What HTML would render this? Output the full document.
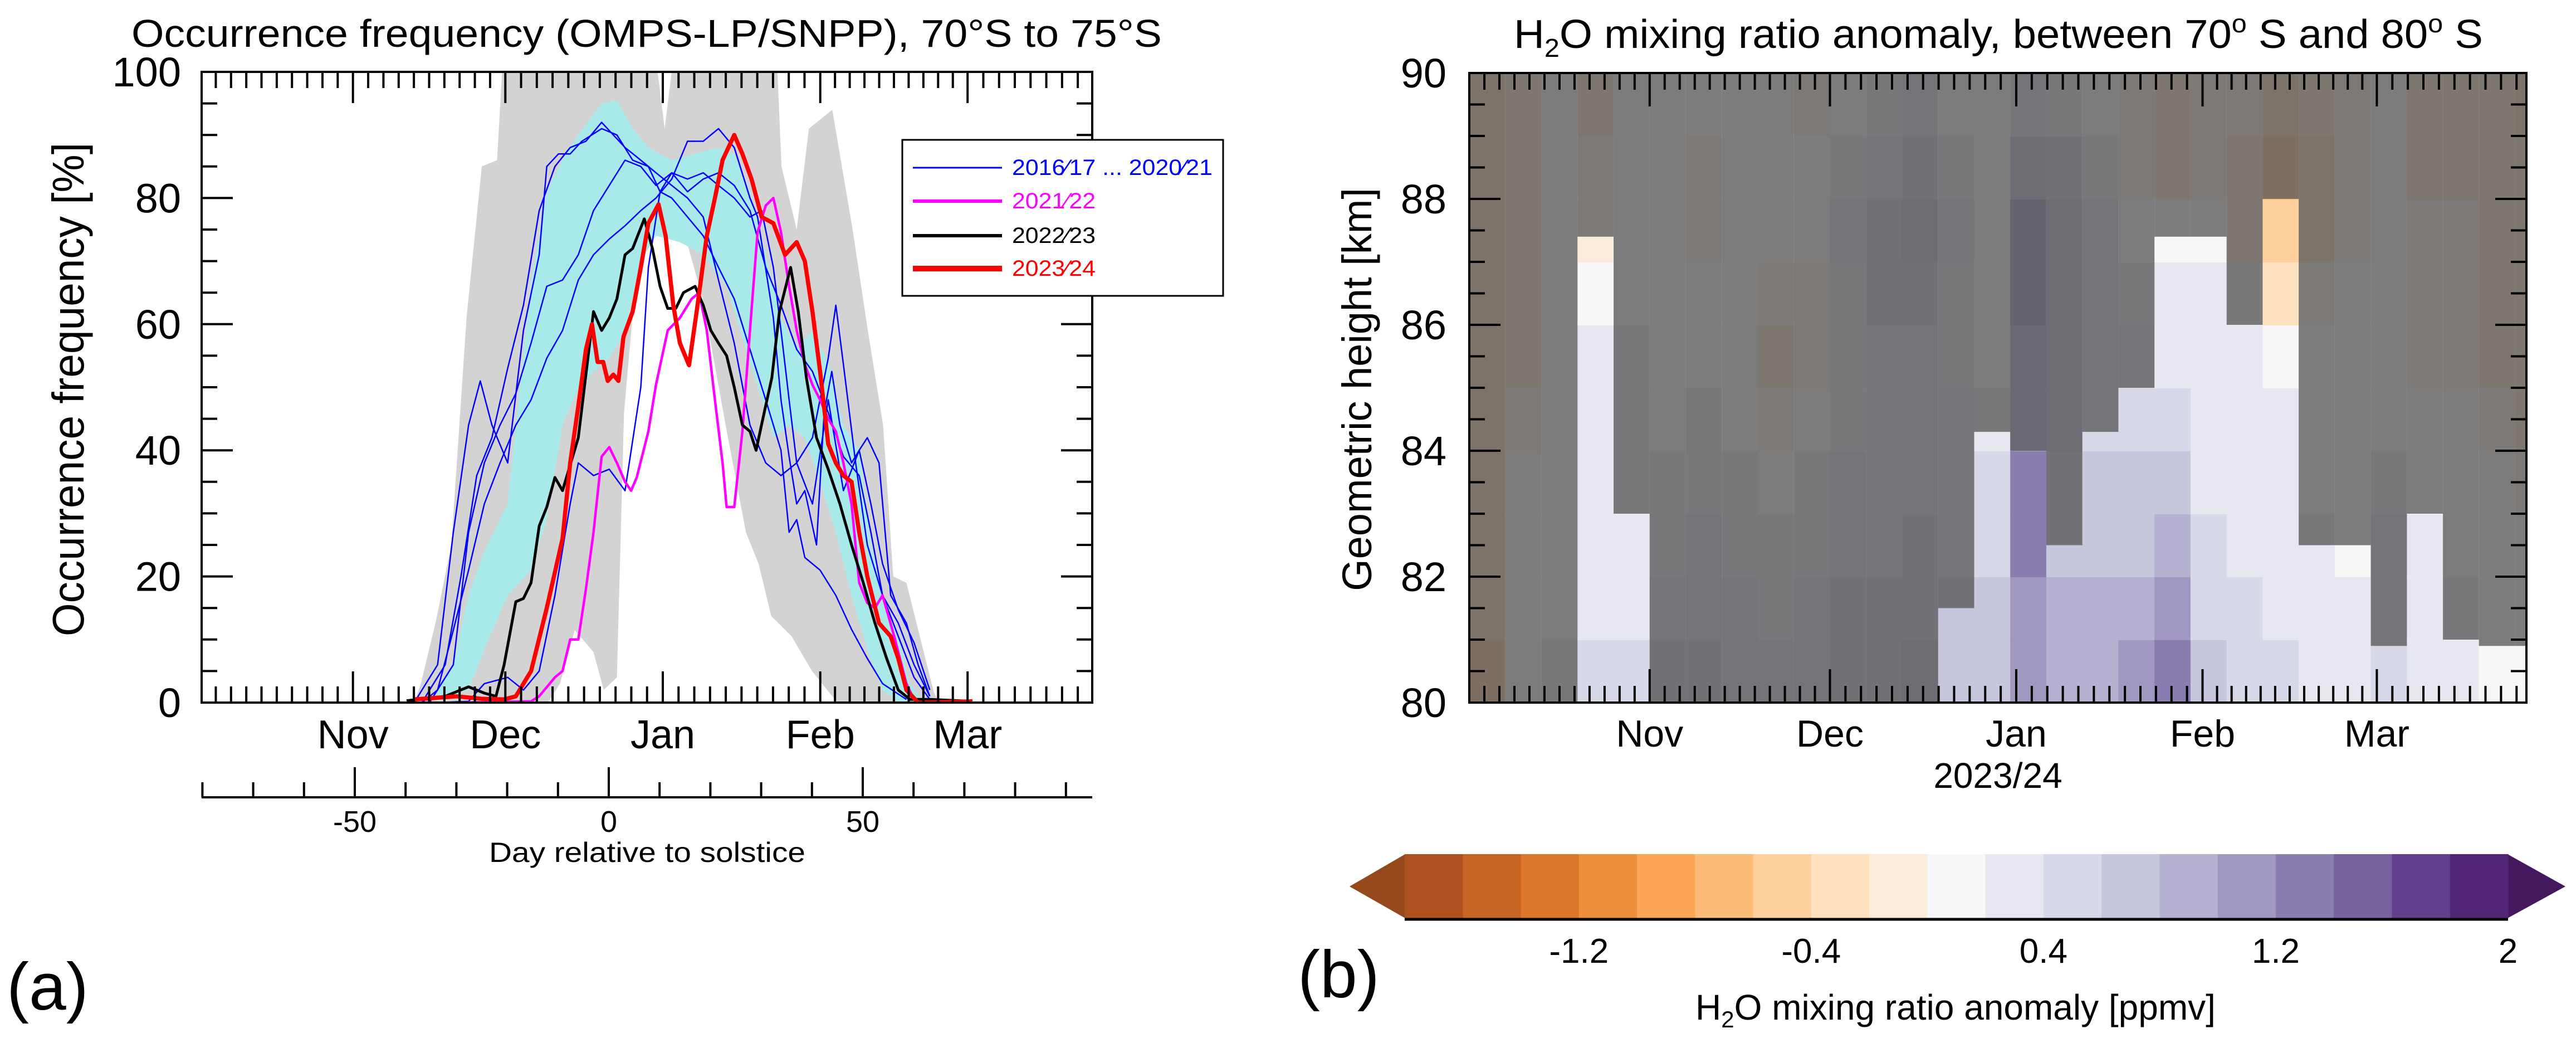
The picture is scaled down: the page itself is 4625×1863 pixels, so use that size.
<!DOCTYPE html>
<html><head><meta charset="utf-8"><style>
html,body{margin:0;padding:0;background:#fff}
svg{display:block}
text{font-family:"Liberation Sans",sans-serif;fill:#000}
</style></head><body>
<svg id="fig" width="4625" height="1863" viewBox="0 0 4625 1863" xmlns="http://www.w3.org/2000/svg">
<defs>
<clipPath id="clipA"><rect x="362" y="129" width="1599" height="1132"/></clipPath>
<clipPath id="clipB"><rect x="2638" y="131" width="1898" height="1130"/></clipPath>
</defs>
<g id="panelA">
<text x="1161" y="84" font-size="70" text-anchor="middle" textLength="1850" lengthAdjust="spacingAndGlyphs">Occurrence frequency (OMPS-LP/SNPP), 70°S to 75°S</text>
<g id="aData" clip-path="url(#clipA)"></g>
<rect x="362" y="129" width="1599" height="1132" fill="none" stroke="#000" stroke-width="4"/>
<g id="aAxes"></g>
<text transform="translate(150,699) rotate(-90)" font-size="80" text-anchor="middle" textLength="886" lengthAdjust="spacingAndGlyphs">Occurrence frequency [%]</text>
<text x="1162" y="1547" font-size="50" text-anchor="middle" textLength="568" lengthAdjust="spacingAndGlyphs">Day relative to solstice</text>
<g>
<rect x="1620" y="251" width="576" height="280" fill="#fff" stroke="#000" stroke-width="3"/>
<line x1="1639" y1="301" x2="1799" y2="301" stroke="#0000ff" stroke-width="3"/>
<text x="1817" y="314" font-size="40" style="fill:#0000ff" textLength="360" lengthAdjust="spacingAndGlyphs">2016⁄17 ... 2020⁄21</text>
<line x1="1639" y1="361" x2="1799" y2="361" stroke="#ff00ff" stroke-width="6"/>
<text x="1817" y="374" font-size="40" style="fill:#ff00ff" textLength="150" lengthAdjust="spacingAndGlyphs">2021⁄22</text>
<line x1="1639" y1="423" x2="1799" y2="423" stroke="#000" stroke-width="6"/>
<text x="1817" y="436" font-size="40" textLength="150" lengthAdjust="spacingAndGlyphs">2022⁄23</text>
<line x1="1639" y1="482" x2="1799" y2="482" stroke="#ff0000" stroke-width="10"/>
<text x="1817" y="495" font-size="40" style="fill:#ff0000" textLength="150" lengthAdjust="spacingAndGlyphs">2023⁄24</text>
</g>
<text x="12" y="1812" font-size="120">(a)</text>
</g>

<g id="panelB">
<text x="3588" y="86" font-size="72" text-anchor="middle" textLength="1740" lengthAdjust="spacingAndGlyphs">H<tspan font-size="46" dy="16">2</tspan><tspan dy="-16">O mixing ratio anomaly, between 70</tspan><tspan font-size="46" dy="-28">o</tspan><tspan dy="28"> S and 80</tspan><tspan font-size="46" dy="-28">o</tspan><tspan dy="28"> S</tspan></text>
<g id="bData" clip-path="url(#clipB)"></g>
<rect x="2638" y="131" width="1898" height="1130" fill="none" stroke="#000" stroke-width="4"/>
<g id="bAxes"></g>
<text transform="translate(2462,699) rotate(-90)" font-size="74" text-anchor="middle">Geometric height [km]</text>
<text x="3587" y="1414" font-size="64" text-anchor="middle">2023/24</text>
<g id="cbar"></g>
<text x="3511" y="1830" font-size="64" text-anchor="middle">H<tspan font-size="42" dy="14">2</tspan><tspan dy="-14">O mixing ratio anomaly [ppmv]</tspan></text>
<text x="2330" y="1790" font-size="120">(b)</text>
</g>
</svg>
<script>
// ---------- Panel (a) data: [day relative to solstice, occurrence %] ----------
const grayUpper = [[-38.3,0],[-37,3],[-34,13],[-31,25],[-28,61],[-25,85],[-22,86],[-21,100],[-20,104],[9,104],[11,91],[13,104],[33,104],[34,85],[37,75],[39.4,91],[44,94],[48,75],[51,59],[54,44],[56,20],[58.6,19],[61.7,9],[64,1.6],[65,0]];
const grayLower = [[65,0],[45,0],[40,5],[36,10.5],[32,13.7],[29.5,22],[27,27],[23,44],[18.5,64],[14,77],[9.5,80],[6.4,77],[3,46],[1.6,4],[-1,2],[-3,8],[-6.7,11.5],[-9.6,3],[-12,0],[-38.3,0]];
const cyanUpper = [[-33.7,0],[-33.7,2],[-30.6,6],[-27.6,17],[-24.5,24],[-19.9,31.5],[-15.3,67],[-12.2,81],[-9.1,86],[-6,90],[-1.4,95],[1.6,95.5],[4.7,91],[7.8,88],[12.4,86],[17,87],[21.6,88],[24.7,87],[27.8,81],[30.9,71],[33.9,61],[37,56],[40.1,59],[43.2,54],[46.2,44],[49.3,40],[51.6,25],[53.9,17],[57,10.5],[59.3,3],[61.6,0.5]];
const cyanLower = [[61.6,0],[57,0],[53.9,2],[50.9,8.4],[47.8,17],[44.7,27],[41.6,35],[38.6,42],[35.5,44],[32.4,42],[27.8,54],[23.2,66],[18.6,71],[14,73],[9.3,74],[6.3,70],[3.2,59],[0.1,54.6],[-3,52.5],[-6,50],[-9.1,44],[-12.2,29],[-15.3,21],[-19.9,17],[-24.5,8.4],[-27.6,2],[-33.7,0]];
const blue1 = [[-38.3,0],[-33.7,6],[-30.6,27],[-27.6,44],[-25.3,51],[-23,44],[-19.9,38],[-16.8,59],[-13.7,71],[-12.2,85],[-9.9,87],[-7.6,87],[-5.3,89],[-1.4,91],[1.6,90],[4.7,86],[7.8,85],[10.1,81],[12.4,80],[15.5,77],[18.6,74],[21.6,69],[24.7,64],[27.8,56],[30.9,48],[33.9,40],[35.5,27],[37,29],[38.6,23],[41.6,21],[44.7,17],[47.8,11.6],[50.9,7],[53.9,3],[58.6,0.5]];
const blue2 = [[-36.8,0],[-32.2,6],[-29.1,20],[-26,36],[-23,42],[-19.9,53],[-16.8,63],[-13.7,78],[-10.6,85],[-7.6,88],[-4.5,89],[-1.4,92],[0.9,90],[3.2,88],[6.3,86],[9.3,84],[12.4,82],[15.5,80],[18.6,77],[21.6,67],[24.7,57],[27.8,44],[30.9,38],[33.9,36],[37,38],[40.1,42],[43.2,54.6],[44.7,63],[46.2,53.6],[48.6,38],[50.9,25],[53.9,17],[57,10.5],[60.1,4],[63.2,0.5]];
const blue3 = [[-36.8,0],[-33.7,2],[-30.6,11.5],[-27.6,21],[-24.5,31.5],[-21.4,38],[-18.3,44],[-15.3,48],[-12.2,54.6],[-9.1,59],[-6,67],[-3,71],[0.1,73.5],[3.2,75.6],[6.3,78],[9.3,80],[12.4,83],[15.5,89],[18.6,89],[21.6,91],[24.7,88],[27.8,80],[29.3,77],[32.4,61],[33.9,48],[35.5,39],[37,31.5],[38.6,33.6],[40.9,25],[42.4,46],[43.9,52.5],[45.5,44],[47.8,38],[49.3,40],[51.6,31.5],[53.9,22],[57,14.7],[60.1,9.5],[63.2,2]];
const blue4 = [[-33.7,0],[-27.6,0.2],[-24.5,3],[-19.9,4],[-16.8,2],[-13.7,5],[-10.6,17],[-7.6,31.5],[-6,38],[-3,36],[0.1,37],[3.2,33.6],[6.3,50],[7.8,69],[10.1,81],[12.4,84],[15.5,83],[18.6,84],[21.6,82],[24.7,80],[27.8,77],[30.1,78],[32.4,69],[33.9,59],[35.5,48],[37,38],[40.1,31.5],[43.2,48],[46.2,33.6],[49.3,40],[50.9,42],[53.2,38],[55.5,17],[58.6,12.6],[60.9,6],[63.2,1]];
const blue5 = [[-35.3,0],[-30.6,6],[-27.6,27],[-24.5,38],[-21.4,44],[-18.3,49],[-15.3,57],[-12.2,66],[-9.1,67],[-6,71],[-3,78],[0.1,82],[3.2,86],[6.3,85],[9.3,82],[12.4,84],[15.5,81],[18.6,83],[21.6,84],[24.7,82],[27.8,78],[30.9,69],[33.9,63],[37,56],[40.1,52.5],[43.2,46],[46.2,39],[49.3,36],[51.6,27],[53.9,17],[57,12.6],[60.1,6],[63.2,1]];
const series2122 = [[-29.1,0],[-15.3,0.2],[-13.7,1],[-10.6,4],[-9.1,5],[-7.6,10],[-6,10],[-4.5,18],[-3,27],[-1.4,39],[0.1,40.5],[1.6,38],[3.2,35],[4.4,33.6],[5.5,35.7],[7.8,43],[9.3,50.4],[11.6,59],[14,61],[16.3,64],[17.8,65],[19.3,59],[20.9,48],[22.4,38],[23.2,31],[24.7,31],[26.3,43],[27.8,59],[29.3,74.6],[30.9,78.8],[32.4,80],[33.9,74.6],[35.5,66],[37,59],[38.6,53.6],[40.1,50.4],[41.6,48],[43.2,45],[44.7,43],[46.2,38],[47.8,31.5],[49.3,19],[50.9,15.8],[52.4,15],[53.9,17],[56.2,10.5],[58.6,3],[60.1,0.5],[71.6,0.2]];
const series2223 = [[-39.8,0.3],[-32.2,1],[-27.6,2.5],[-24.5,1.5],[-22.2,1],[-20.6,6],[-18.3,16],[-16.8,16.5],[-15.3,19],[-13.7,28],[-12.2,31],[-10.6,35.7],[-9.1,33.6],[-6,42],[-3,62],[-1.4,59],[0.1,61],[1.6,64],[3.2,71],[4.7,72],[7,76.7],[8.6,72],[10.1,66],[11.6,62.5],[13.2,62.5],[14.7,65],[17,66],[18.6,63],[20.1,59],[21.6,57],[23.2,55],[24.7,50],[26.3,44],[27.8,43],[29,40],[30.6,46],[32.1,51.5],[33.6,62],[35.8,69],[37.3,62],[38.9,51.5],[40.9,42],[43.2,37],[45.5,31.5],[47.8,25],[50.1,19],[52.4,12.6],[54.7,7],[57,2],[59.3,0.5],[63.2,0.5],[71.6,0.2]];
const series2324 = [[-38.3,0.5],[-30,1],[-25,0.6],[-20.6,0.5],[-18.3,1],[-15.3,5],[-12.2,15],[-9.1,26],[-7.6,38],[-6,47],[-4.5,56],[-3.3,60],[-2.2,54],[-1.1,54],[-0.2,51],[0.9,52],[1.9,51],[2.9,58],[4.7,62],[6.3,69],[7.8,76],[9.8,79],[11.2,74],[12.7,63],[14,57],[15.8,53.5],[17.3,62],[19.3,74],[20.9,80],[22.4,86],[24.7,90],[26.3,87],[28.1,83],[30.1,77],[32.4,76],[34.7,71],[37,73],[38.6,70],[40.1,62],[41.6,52.5],[43.2,41],[44.7,38],[46.2,36],[47.8,35],[49.3,27],[50.9,20],[53.2,12.6],[55.5,10.5],[57,7],[58.6,2],[60.9,0],[71.6,0.2]];
const yTicksA = [0,20,40,60,80,100];
const monthLabels = ["Nov","Dec","Jan","Feb","Mar"];
const monthDaysA = [-61,-31,0,31,60];
const dayTicks = [-50,0,50];

// ---------- Panel (b) data ----------
const hmDay0 = -91;
const hmColDays = 6;
const hmHeights = [80,81,82,83,84,85,86,87,88,89];
const hmAnom = [
[-0.8,-0.6,-0.6,-0.6,-0.6,-0.6,-0.6,-0.6,-0.6,-0.6],
[0.1,0.1,0.1,0.1,-0.2,-0.4,-0.4,-0.4,-0.4,-0.4],
[0.3,0.1,0.1,0.1,0.1,0.1,0.1,0.1,0.1,0.1],
[0.5,0.3,0.3,0.3,0.3,0.3,0.1,-0.2,-0.2,-0.4],
[0.5,0.3,0.3,0.3,0.3,0.3,0.1,0.1,0.1,0.1],
[0.7,0.5,0.3,0.3,0.1,0.1,0.1,0.1,0.1,0.1],
[0.7,0.5,0.5,0.3,0.3,0.1,0.1,-0.2,-0.2,0.1],
[0.5,0.5,0.3,0.3,0.1,0.1,0.1,0.1,0.1,0.1],
[0.5,0.3,0.3,0.1,-0.2,-0.4,-0.2,0.1,0.1,0.1],
[0.5,0.5,0.3,0.3,0.1,-0.2,-0.2,0.1,0.1,-0.2],
[0.7,0.7,0.5,0.5,0.3,0.3,0.3,0.5,0.3,0.1],
[0.7,0.7,0.5,0.5,0.5,0.5,0.7,0.7,0.5,0.3],
[0.9,0.7,0.7,0.5,0.5,0.5,0.7,0.9,0.7,0.5],
[0.7,0.7,0.5,0.5,0.5,0.3,0.3,0.5,0.3,0.1],
[0.7,0.7,0.5,0.5,0.3,0.1,0.1,0.1,0.1,0.1],
[1.1,1.1,1.3,1.3,1.1,1.1,1.3,1.3,0.9,0.5],
[0.9,0.9,0.7,0.7,0.9,0.9,0.9,0.9,0.7,0.3],
[0.9,0.9,0.7,0.7,0.5,0.5,0.5,0.5,0.3,0.1],
[1.1,0.9,0.7,0.7,0.5,0.5,0.3,0.1,-0.2,-0.2],
[1.3,1.1,0.9,0.7,0.5,0.3,0.3,0.1,-0.4,-0.4],
[0.7,0.5,0.5,0.3,0.3,0.3,0.3,0.1,-0.2,-0.2],
[0.5,0.5,0.3,0.3,0.3,0.3,0.3,-0.4,-0.4,-0.2],
[0.5,0.3,0.3,0.3,0.3,0.1,-0.4,-0.6,-0.8,-0.6],
[0.3,0.3,0.3,0.1,0.1,0.1,-0.2,-0.6,-0.6,-0.4],
[0.3,0.3,0.1,0.1,0.1,0.1,0.1,-0.2,-0.2,-0.2],
[0.5,0.5,0.5,0.3,0.1,0.1,0.1,0.1,0.1,0.1],
[0.3,0.3,0.3,0.1,0.1,-0.2,-0.2,-0.2,-0.4,-0.4],
[0.3,0.3,0.1,0.1,0.1,-0.2,-0.2,-0.2,-0.4,-0.4],
[0.1,0.1,0.1,0.1,-0.2,-0.4,-0.4,-0.4,-0.4,-0.4],
[0.1,0.1,0.1,-0.2,-0.4,-0.4,-0.4,-0.4,-0.4,-0.6]];
const hmMaskBottom = [80,80,80,87.4,83,80,80,80,80,80,80,80,80,81.5,84.3,84,82.5,84.3,85,87.4,87.4,86,88,82.5,82.5,80.9,83,81,80.9,80.9];
const yTicksB = [80,82,84,86,88,90];
const monthDaysB = [-61,-31,0,31,60];
const cbLevels = [-1.8,-1.6,-1.4,-1.2,-1.0,-0.8,-0.6,-0.4,-0.2,0,0.2,0.4,0.6,0.8,1.0,1.2,1.4,1.6,1.8,2.0];
const cbColors = ["#AD521E","#C66423","#DC762B","#EE8F3B","#FBA556","#FDBB78","#FECF9C","#FEE1BE","#FBECDA","#F7F7F7","#E7E7EF","#D7D8E8","#C6C6DD","#B5B1D1","#A098C1","#8A7DAF","#76629F","#633F8E","#522677"];
const cbTickLabels = ["-1.2","-0.4","0.4","1.2","2"];
const cbTickValues = [-1.2,-0.4,0.4,1.2,2.0];

const NS="http://www.w3.org/2000/svg";
function mk(tag,attrs,parent){const e=document.createElementNS(NS,tag);for(const k in attrs)e.setAttribute(k,attrs[k]);parent.appendChild(e);return e;}

const XA = s => 1093 + s*9.12;
const XJ = d => 1190 + d*9.12;
const YA = v => 1261 - v*11.32;
const aData=document.getElementById('aData');
const aAxes=document.getElementById('aAxes');
function ptsStr(arr){return arr.map(p=>XA(p[0]).toFixed(1)+','+YA(p[1]).toFixed(1)).join(' ');}
let g1=mk('polygon',{points:ptsStr(grayUpper.concat(grayLower)),fill:'#d3d3d3'},aData);


let c1=mk('polygon',{points:ptsStr(cyanUpper.concat(cyanLower)),fill:'#a8eaea'},aData);


const blues=[blue1,blue2,blue3,blue4,blue5];
blues.forEach((b,i)=>{
  const l=mk('polyline',{points:ptsStr(b),fill:'none',stroke:'#0000ff','stroke-width':2.5,'stroke-linejoin':'round'},aData);
  
  
});
let lm=mk('polyline',{points:ptsStr(series2122),fill:'none',stroke:'#ff00ff','stroke-width':4.5,'stroke-linejoin':'round'},aData);


let lk=mk('polyline',{points:ptsStr(series2223),fill:'none',stroke:'#000','stroke-width':5,'stroke-linejoin':'round'},aData);


let lr=mk('polyline',{points:ptsStr(series2324),fill:'none',stroke:'#ff0000','stroke-width':7.5,'stroke-linejoin':'round'},aData);



const tk={stroke:'#000','stroke-width':4};
for(let v=0;v<=100;v+=5){
  const y=YA(v), L=(v%20===0)?56:28;
  mk('line',Object.assign({x1:362,y1:y,x2:362+L,y2:y},tk),aAxes);
  mk('line',Object.assign({x1:1961,y1:y,x2:1961-L,y2:y},tk),aAxes);
}
yTicksA.forEach(v=>{
  const t=mk('text',{x:325,y:YA(v)+26,'font-size':74,'text-anchor':'end'},aAxes);
  t.textContent=String(v);
  
  
});
for(let i=-1;i<monthDaysA.length;i++){
  const d0 = i<0 ? -92 : monthDaysA[i];
  const d1 = i<monthDaysA.length-1 ? monthDaysA[i+1] : 91;
  const span = (i<0)? 30 : (i<monthDaysA.length-1 ? d1-d0 : 31);
  for(let k=0;k<10;k++){
    const d = (i<0) ? monthDaysA[0]-span + k*span/10 : d0 + k*span/10;
    const x=XJ(d); if(x<364||x>1959) continue;
    const L=(k===0 && i>=0)?56:29;
    mk('line',Object.assign({x1:x,y1:129,x2:x,y2:129+L},tk),aAxes);
    mk('line',Object.assign({x1:x,y1:1261,x2:x,y2:1261-L},tk),aAxes);
  }
}
monthLabels.forEach((m,i)=>{
  const t=mk('text',{x:XJ(monthDaysA[i]),y:1343,'font-size':72,'text-anchor':'middle'},aAxes);
  t.textContent=m;
  
  
});
mk('line',{x1:362,y1:1431,x2:1961,y2:1431,style:'stroke:#000;stroke-width:4'},aAxes);
for(let s=-80;s<=90;s+=10){
  const L=(s%50===0)?54:27;
  mk('line',Object.assign({x1:XA(s),y1:1431,x2:XA(s),y2:1431-L},tk),aAxes);
}
dayTicks.forEach(s=>{
  const t=mk('text',{x:XA(s),y:1493,'font-size':54,'text-anchor':'middle'},aAxes);
  t.textContent=String(s);
  
  
});

const XB = d => 3620 + d*10.79;
const YB = h => 1261 - (h-80)*113;
const bData=document.getElementById('bData');
const bAxes=document.getElementById('bAxes');
function colorFor(v){
  if(v< cbLevels[0]) return "#95491C";
  if(v>=cbLevels[cbLevels.length-1]) return "#43185F";
  for(let i=0;i<cbColors.length;i++){ if(v>=cbLevels[i] && v<cbLevels[i+1]) return cbColors[i]; }
  return "#F7F7F7";
}
hmAnom.forEach((col,c)=>{
  const x0=XB(hmDay0+c*hmColDays), x1=XB(hmDay0+(c+1)*hmColDays);
  col.forEach((v,r)=>{
    const h=hmHeights[r];
    const cell=mk('rect',{x:x0.toFixed(1),y:YB(h+1).toFixed(1),width:(x1-x0+0.8).toFixed(1),height:114,fill:colorFor(v)},bData);
    
    
  });
  const mb=hmMaskBottom[c];
  if(mb<90){
    const m=mk('rect',{x:x0.toFixed(1),y:YB(90),width:(x1-x0+0.8).toFixed(1),height:(YB(mb)-YB(90)).toFixed(1),fill:'#5c5c5c','fill-opacity':0.8},bData);
    
    
  }
});
for(let h=80;h<=90;h+=0.5){
  const y=YB(h), L=(h%2===0)?56:28;
  mk('line',Object.assign({x1:2638,y1:y,x2:2638+L,y2:y},tk),bAxes);
  mk('line',Object.assign({x1:4536,y1:y,x2:4536-L,y2:y},tk),bAxes);
}
yTicksB.forEach(h=>{
  const t=mk('text',{x:2597,y:YB(h)+26,'font-size':74,'text-anchor':'end'},bAxes);
  t.textContent=String(h);
  
  
});
const bBounds=[-92].concat(monthDaysB).concat([91]);
for(let i=0;i<bBounds.length-1;i++){
  const d0=bBounds[i], d1=bBounds[i+1];
  const span = (i===0)? 30 : (i===bBounds.length-2 ? 31 : d1-d0);
  const start = (i===0)? monthDaysB[0]-30 : d0;
  for(let k=0;k<12;k++){
    const d=start+k*span/12; const x=XB(d);
    if(x<2640||x>4534) continue;
    const L=(k===0 && i>0)?60:30;
    mk('line',Object.assign({x1:x,y1:131,x2:x,y2:131+L},tk),bAxes);
    mk('line',Object.assign({x1:x,y1:1261,x2:x,y2:1261-L},tk),bAxes);
  }
}
monthLabels.forEach((m,i)=>{
  const t=mk('text',{x:XB(monthDaysB[i]),y:1340,'font-size':68,'text-anchor':'middle'},bAxes);
  t.textContent=m;
  
  
});
const cb=document.getElementById('cbar');
const CX = v => 2522 + (v-cbLevels[0])/(cbLevels[cbLevels.length-1]-cbLevels[0])*(4503-2522);
let tl=mk('polygon',{points:'2423,1591 2523,1533 2523,1648',fill:'#95491C'},cb);


let tr=mk('polygon',{points:'4606,1591 4502,1533 4502,1648',fill:'#43185F'},cb);


cbColors.forEach((c,i)=>{
  const r=mk('rect',{x:CX(cbLevels[i]).toFixed(1),y:1533,width:(CX(cbLevels[i+1])-CX(cbLevels[i])+0.6).toFixed(1),height:115,fill:c},cb);
  
  
});
mk('line',{x1:2522,y1:1650,x2:4503,y2:1650,stroke:'#000','stroke-width':5},cb);
cbTickLabels.forEach((s,i)=>{
  const t=mk('text',{x:CX(cbTickValues[i]),y:1728,'font-size':62,'text-anchor':'middle'},cb);
  t.textContent=s;
  
  
});
</script>
</body></html>
